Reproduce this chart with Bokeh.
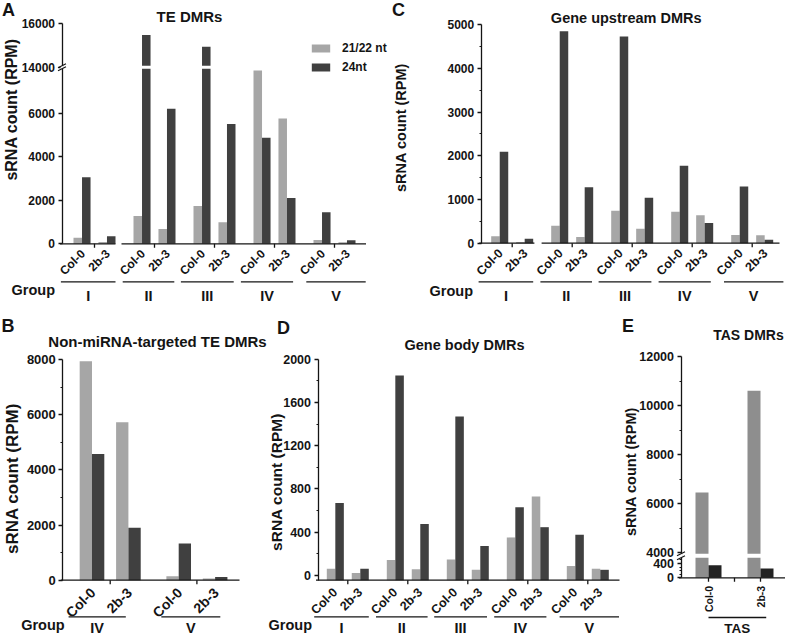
import math
from bokeh.plotting import figure
from bokeh.models import FixedTicker, Label, Arrow, Range1d, Legend, LegendItem
from bokeh.layouts import column, row
from bokeh.embed import file_html
from bokeh.resources import INLINE
from bokeh.core.properties import value

# ---------------- data ----------------
groups = ["I", "II", "III", "IV", "V"]
samples = ["Col-0", "2b-3"]
series_names = ["21/22 nt", "24nt"]

# A: TE DMRs  (order: I Col-0, I 2b-3, II Col-0, II 2b-3, ...)
te_21 = [280, 80, 1270, 680, 1730, 990, 7950, 5750, 170, 70]
te_24 = [3050, 350, 15480, 6200, 14940, 5500, 4860, 2100, 1450, 160]
te_ticks = [0, 2000, 4000, 6000, 14000, 16000]

# C: Gene upstream DMRs
up_21 = [160, 25, 400, 140, 740, 330, 720, 640, 190, 180]
up_24 = [2090, 100, 4850, 1280, 4730, 1040, 1770, 460, 1300, 80]
up_ticks = [0, 1000, 2000, 3000, 4000, 5000]
up_minor = [500, 1500, 2500, 3500, 4500]

# B: Non-miRNA-targeted TE DMRs
nonmi_groups = ["IV", "V"]
nonmi_21 = [7930, 5720, 140, 60]
nonmi_24 = [4570, 1900, 1330, 120]
nonmi_ticks = [0, 2000, 4000, 6000, 8000]
nonmi_minor = [1000, 3000, 5000, 7000]

# D: Gene body DMRs
body_21 = [60, 20, 140, 55, 145, 50, 350, 730, 85, 60]
body_24 = [670, 60, 1850, 475, 1470, 270, 630, 445, 375, 50]
body_ticks = [0, 400, 800, 1200, 1600, 2000]
body_minor = [200, 600, 1000, 1400, 1800]

# E: TAS DMRs
tas_groups = ["TAS"]
tas_21 = [6450, 10600]
tas_24 = [350, 260]
tas_ticks = [0, 400, 4000, 6000, 8000, 10000, 12000]
tas_minor = [100, 200, 300, 500, 5000, 7000, 9000, 11000]

# ---------------- layout helpers ----------------
FONT = "Liberation Sans"
INK = "#141414"


def fs(n):
    return "%.1fpx" % n


def clean(x):
    r = round(x, 6)
    return int(round(r)) if abs(r - round(r)) < 1e-9 else r


def t_te(v):      # broken axis: 6000..14000 collapsed
    return v if v < 10000 else v - 5900


def t_tas(v):     # broken axis with two scales (units: 1/100 px)
    return v * 3.575 if v < 2000 else 2530 + (v - 4000) * 2.45


def t_id(v):
    return v


class Panel:
    """Whole panel is the plot frame; the y axis sits at a fixed data location."""

    def __init__(self, box, axis_x, c0, s, p0, k):
        X0, Y0, X1, Y1 = box
        self.X0, self.Y0, self.X1, self.Y1 = box
        self.c0, self.s, self.p0, self.k = c0, s, p0, k
        self.W = X1 - X0
        self.H = Y1 - Y0
        self.ax = self.dx(axis_x)
        self.p = figure(width=self.W, height=self.H,
                        x_range=Range1d(self.dx(X0), self.dx(X1)),
                        y_range=Range1d(self.dy(Y1), self.dy(Y0)),
                        x_axis_location=None, y_axis_location="left", title=None,
                        toolbar_location=None, output_backend="svg",
                        min_border_left=0, min_border_right=0,
                        min_border_top=0, min_border_bottom=0)
        self.p.grid.visible = False
        self.p.outline_line_color = None
        self.p.background_fill_color = "white"
        self.p.border_fill_color = "white"

    def dx(self, r):
        return (r - self.c0) / self.s

    def dy(self, r):
        return (self.p0 - r) / self.k

    def rx(self, n):
        return n / self.s

    def ry(self, n):
        return n / self.k


def label(P, xy, text, size, align="center", angle=0.0):
    P.p.add_layout(Label(x=P.dx(xy[0]), y=P.dy(xy[1]), text=text, angle=angle,
                         text_font=FONT, text_font_style="bold", text_font_size=fs(size),
                         text_color=INK, text_align=align, text_baseline="middle"))


def build(c):
    P = Panel(c["box"], c["axis_x"], c["c0"], c["s"], c["p0"], c["k"])
    p = P.p
    T = c["T"]
    base = c["base"]
    n_g = len(c["groups"])
    off, bw = c["off"], c["bw"]
    centers = [g + o for g in range(n_g) for o in off]
    x21 = [x - bw / 2 for x in centers]
    x24 = [x + bw / 2 for x in centers]
    r21 = p.vbar(x=x21, top=[T(v) for v in c["v21"]], bottom=base, width=bw,
                 fill_color=c["colors"][0], line_color=None)
    r24 = p.vbar(x=x24, top=[T(v) for v in c["v24"]], bottom=base, width=bw,
                 fill_color=c["colors"][1], line_color=None)

    if c.get("band"):
        lo, hi, thr = c["band"]
        bl, br = [], []
        for xs, vals in ((x21, c["v21"]), (x24, c["v24"])):
            for x, v in zip(xs, vals):
                if v >= thr:
                    bl.append(x - bw / 2 - 0.01)
                    br.append(x + bw / 2 + 0.01)
        p.quad(left=bl, right=br, bottom=lo, top=hi, fill_color="white", line_color=None)

    # y axis (inside the frame, at the panel's axis position)
    ya = p.yaxis[0]
    ya.fixed_location = P.ax
    tpos = [clean(T(v)) for v in c["ticks"]]
    ya.ticker = FixedTicker(ticks=tpos, minor_ticks=[clean(T(v)) for v in c["minor"]])
    ya.major_label_overrides = {tp: str(v) for tp, v in zip(tpos, c["ticks"])}
    ya.bounds = (base, tpos[-1])
    ya.axis_line_color = INK
    ya.axis_line_width = 1.3
    ya.major_tick_line_color = INK
    ya.major_tick_line_width = 1.3
    ya.minor_tick_line_color = INK
    ya.minor_tick_line_width = 1.1
    ya.major_tick_out = 4
    ya.major_tick_in = 0
    ya.minor_tick_out = 2
    ya.minor_tick_in = 0
    ya.major_label_standoff = 3
    ya.major_label_text_font = FONT
    ya.major_label_text_font_style = "bold"
    ya.major_label_text_font_size = fs(c["tick_fs"])
    ya.major_label_text_color = INK

    # x axis line + ticks
    segs = c["xsegs"]
    xs0 = [P.ax - P.rx(2) if a is None else a for a, b in segs]
    xs1 = [b for a, b in segs]
    p.segment(x0=xs0, y0=base, x1=xs1, y1=base, line_color=INK, line_width=1.3)
    xt = c["xticks"]
    p.segment(x0=xt, y0=base, x1=xt, y1=base - P.ry(4), line_color=INK, line_width=1.3)

    # sample labels
    p.text(x=[x + P.rx(c["lab_dx"]) for x in centers], y=base - P.ry(c["lab_dy"]),
           text=samples * n_g, angle=c["lab_angle"], text_align="right",
           text_baseline="middle", text_font=value(FONT), text_font_style="bold",
           text_font_size=value(fs(c["lab_fs"])), text_color=INK)

    # group lines and labels
    gl, gr = c["gline_l"], c["gline_r"]
    gy = P.dy(c["gline_y"])
    p.segment(x0=[g + a for g, a in zip(range(n_g), gl)], y0=gy,
              x1=[g + b for g, b in zip(range(n_g), gr)], y1=gy,
              line_color=INK, line_width=1.3)
    p.text(x=[g + (a + b) / 2 for g, a, b in zip(range(n_g), gl, gr)], y=P.dy(c["glab_y"]),
           text=c["groups"], text_align="center", text_baseline="middle",
           text_font=value(FONT), text_font_style="bold",
           text_font_size=value(fs(c["glab_fs"])), text_color=INK)

    if c.get("group_word"):
        label(P, c["group_word"], "Group", c["word_fs"], align="left")
    label(P, c["title_xy"], c["title"], c["title_fs"])
    label(P, c["letter_xy"], c["letter"], 18)
    label(P, c["ylabel_xy"], "sRNA count (RPM)", c["ylabel_fs"], angle=math.pi / 2)

    # axis break marks
    for yb, gap in c.get("breaks", []):
        ax = P.ax
        p.add_layout(Arrow(end=None, x_start=ax, y_start=yb - P.ry(gap), x_end=ax,
                           y_end=yb + P.ry(gap), line_color="white", line_width=3))
        for sgn in (-1, 1):
            yc = yb + sgn * P.ry(gap)
            p.add_layout(Arrow(end=None, x_start=ax - P.rx(4), y_start=yc - P.ry(2),
                               x_end=ax + P.rx(4), y_end=yc + P.ry(2),
                               line_color=INK, line_width=1.2))

    if c.get("legend"):
        lx, ltop = c["legend"]
        loc = (lx - P.X0, P.Y1 - (ltop + 35))
        leg = Legend(items=[LegendItem(label=series_names[0], renderers=[r21]),
                            LegendItem(label=series_names[1], renderers=[r24])],
                     location=loc, orientation="vertical",
                     glyph_width=23, glyph_height=10,
                     label_standoff=10, spacing=5,
                     label_height=10, padding=0, margin=0,
                     border_line_color=None, background_fill_alpha=0,
                     label_text_font=FONT, label_text_font_style="bold",
                     label_text_font_size=fs(12), label_text_color=INK)
        p.add_layout(leg)
    return p


GL = [-0.56, -0.53, -0.56, -0.56, -0.47]
GR = [0.35, 0.33, 0.32, 0.31, 0.52]
LIGHT, DARK = "#a6a6a6", "#404040"

cfgA = dict(box=(1, 1, 391, 306), axis_x=62.5, c0=95.0, s=60.0, p0=244.3, k=0.0218,
            groups=groups, v21=te_21, v24=te_24, T=t_te, base=0.0,
            ticks=te_ticks, minor=[], tick_fs=12,
            off=[-0.208, 0.208], bw=0.142, colors=(LIGHT, DARK),
            xsegs=[(None, 0.35), (0.45, (366.5 - 95.0) / 60.0)], xticks=list(range(5)),
            lab_fs=12, lab_angle=math.pi / 4, lab_dx=1, lab_dy=8,
            gline_l=GL, gline_r=GR, gline_y=282.3, glab_y=296.0, glab_fs=14.5,
            group_word=(12.0, 290.0), word_fs=14.5,
            title="TE DMRs", title_xy=(190.0, 17.0), title_fs=15,
            letter="A", letter_xy=(9.0, 10.0),
            ylabel_xy=(11.5, 110.0), ylabel_fs=16,
            band=(8030, 8170, 14000), breaks=[(8100, 1.5)],
            legend=(310.0, 40.0))

cfgC = dict(box=(391, 1, 786, 306), axis_x=481.7, c0=512.7, s=60.0, p0=243.7, k=0.0437,
            groups=groups, v21=up_21, v24=up_24, T=t_id, base=0.0,
            ticks=up_ticks, minor=up_minor, tick_fs=12,
            off=[-0.208, 0.208], bw=0.142, colors=(LIGHT, DARK),
            xsegs=[(None, 0.37), (0.49, (780.0 - 512.7) / 60.0)], xticks=list(range(5)),
            lab_fs=12.5, lab_angle=math.pi / 4, lab_dx=1, lab_dy=8,
            gline_l=GL, gline_r=GR, gline_y=282.3, glab_y=296.7, glab_fs=14.5,
            group_word=(430.0, 291.7), word_fs=14.5,
            title="Gene upstream DMRs", title_xy=(626.7, 18.3), title_fs=14.5,
            letter="C", letter_xy=(399.0, 10.0),
            ylabel_xy=(401.5, 128.0), ylabel_fs=14.5)

cfgB = dict(box=(1, 306, 268, 638), axis_x=63.3, c0=110.7, s=86.7, p0=580.7, k=0.0276,
            groups=nonmi_groups, v21=nonmi_21, v24=nonmi_24, T=t_id, base=0.0,
            ticks=nonmi_ticks, minor=nonmi_minor, tick_fs=13,
            off=[-0.21, 0.21], bw=0.142, colors=(LIGHT, DARK),
            xsegs=[(None, (240.0 - 110.7) / 86.7)], xticks=[0, 1],
            lab_fs=14, lab_angle=math.pi / 4, lab_dx=1, lab_dy=10,
            gline_l=[-0.48, -0.41], gline_r=[0.18, 0.27], gline_y=617.3, glab_y=628.3, glab_fs=14.5,
            group_word=(21.7, 625.5), word_fs=14.5,
            title="Non-miRNA-targeted TE DMRs", title_xy=(158.0, 341.7), title_fs=15,
            letter="B", letter_xy=(8.5, 326.0),
            ylabel_xy=(12.5, 479.0), ylabel_fs=17)

cfgD = dict(box=(268, 306, 622, 638), axis_x=318.5, c0=348.3, s=60.0, p0=575.7, k=0.1079,
            groups=groups, v21=body_21, v24=body_24, T=t_id, base=-46.3,
            ticks=body_ticks, minor=body_minor, tick_fs=12.5,
            off=[-0.208, 0.208], bw=0.142, colors=(LIGHT, DARK),
            xsegs=[(None, (620.0 - 348.3) / 60.0)], xticks=list(range(5)),
            lab_fs=12.5, lab_angle=math.pi / 4, lab_dx=0, lab_dy=10,
            gline_l=GL, gline_r=GR, gline_y=617.3, glab_y=628.3, glab_fs=14.5,
            group_word=(269.0, 625.5), word_fs=14.5,
            title="Gene body DMRs", title_xy=(465.0, 345.0), title_fs=14.5,
            letter="D", letter_xy=(284.0, 328.0),
            ylabel_xy=(277.0, 482.5), ylabel_fs=15.5)

cfgE = dict(box=(622, 306, 786, 638), axis_x=681.5, c0=709.0, s=52.0, p0=578.3, k=0.01,
            groups=tas_groups, v21=tas_21, v24=tas_24, T=t_tas, base=0.0,
            ticks=tas_ticks, minor=tas_minor, tick_fs=12.5,
            off=[0.0, 1.0], bw=0.25, colors=("#8e8e8e", "#232323"),
            xsegs=[(None, (790.0 - 709.0) / 52.0)], xticks=[0, 0.5, 1],
            lab_fs=10.5, lab_angle=math.pi / 2, lab_dx=0, lab_dy=8,
            gline_l=[0.0], gline_r=[1.11], gline_y=618.0, glab_y=628.5, glab_fs=13.5,
            group_word=None, word_fs=14,
            title="TAS DMRs", title_xy=(749.0, 335.0), title_fs=14,
            letter="E", letter_xy=(628.5, 326.0),
            ylabel_xy=(631.0, 472.0), ylabel_fs=14.5,
            band=(2000, 2400, 4000), breaks=[(2200, 2.0)])

pA, pC, pB, pD, pE = (build(c) for c in (cfgA, cfgC, cfgB, cfgD, cfgE))
layout = column(row(pA, pC), row(pB, pD, pE))

with open("out.html", "w") as fh:
    fh.write(file_html(layout, INLINE, title="sRNA counts at DMRs"))
